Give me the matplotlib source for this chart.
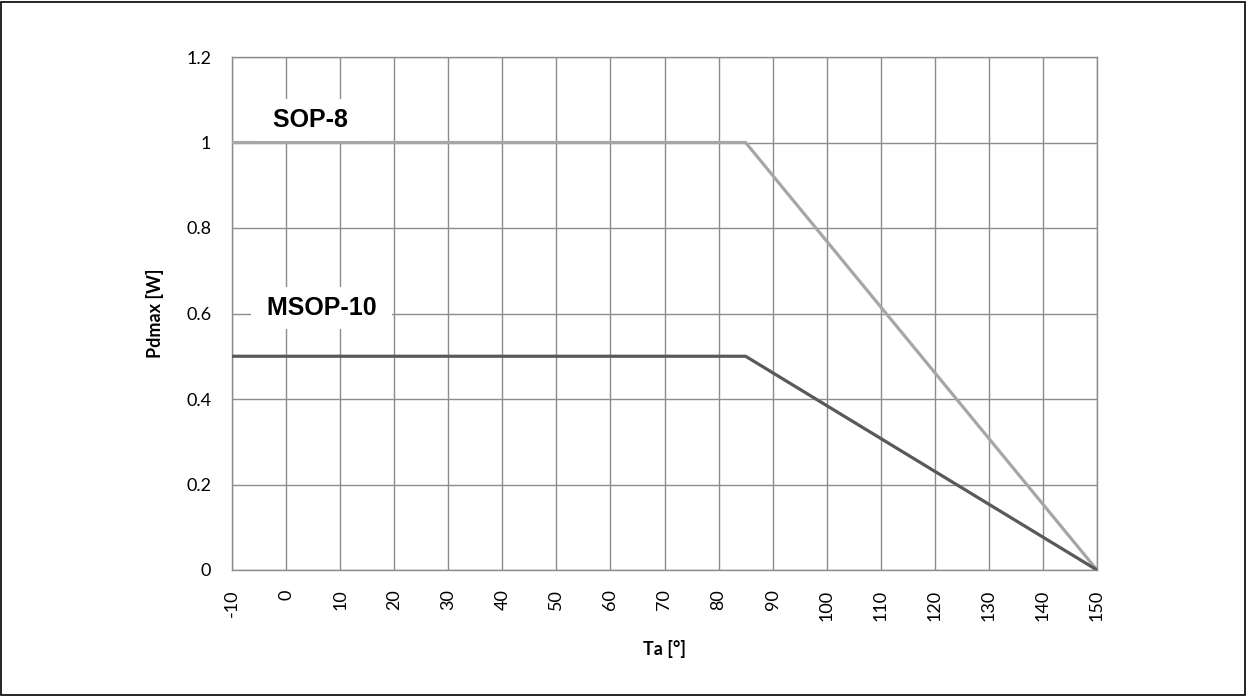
import matplotlib
matplotlib.use("Agg")
import matplotlib.pyplot as plt
from matplotlib.patches import Rectangle

# data
ta_sop8 = [-10, 85, 150]
pd_sop8 = [1.0, 1.0, 0.0]
ta_msop10 = [-10, 85, 150]
pd_msop10 = [0.5, 0.5, 0.0]
xticks = list(range(-10, 151, 10))
yticks = [0, 0.2, 0.4, 0.6, 0.8, 1.0, 1.2]
ytick_labels = ["0", "0.2", "0.4", "0.6", "0.8", "1", "1.2"]

plt.rcParams['font.family'] = ['Lato', 'DejaVu Sans']

fig = plt.figure(figsize=(12.47, 6.96), dpi=100)
ax = fig.add_axes([232/1247, 1-570/696, 865/1247, 513/696])

ax.plot(ta_sop8, pd_sop8, color='#A6A6A6', lw=2.3, zorder=3, solid_joinstyle='miter')
ax.plot(ta_msop10, pd_msop10, color='#595959', lw=2.3, zorder=3, solid_joinstyle='miter')

ax.set_xlim(-10, 150)
ax.set_ylim(0, 1.2)
ax.set_xticks(xticks)
ax.set_xticklabels([str(t) for t in xticks], rotation=90, fontsize=13)
ax.set_yticks(yticks)
ax.set_yticklabels(ytick_labels, fontsize=13)
ax.tick_params(axis='x', length=0, pad=14)
ax.tick_params(axis='y', length=0, pad=15)
ax.grid(True, color='#8C8C8C', lw=1.0, zorder=1)
ax.set_axisbelow(True)
for s in ax.spines.values():
    s.set_color('#8C8C8C')
    s.set_linewidth(1.0)

ax.set_xlabel('Ta [°]', fontsize=13, fontweight='bold', labelpad=14)
ax.set_ylabel('Pdmax [W]', fontsize=13, fontweight='bold', labelpad=16)

lbl_font = dict(fontsize=18, fontweight='bold', family=['Liberation Sans', 'DejaVu Sans'],
                ha='center', va='baseline', zorder=4,
                bbox=dict(facecolor='white', edgecolor='none', pad=6.5))
ax.text(4.43, 1.036, ' SOP-8 ', **lbl_font)
ax.text(6.55, 0.5965, ' MSOP-10 ', **lbl_font)

fig.patches.append(Rectangle((0.001, 0.002), 0.997, 0.995, transform=fig.transFigure,
                             fill=False, edgecolor='black', lw=1.2))

fig.savefig('out.png', dpi=100)
